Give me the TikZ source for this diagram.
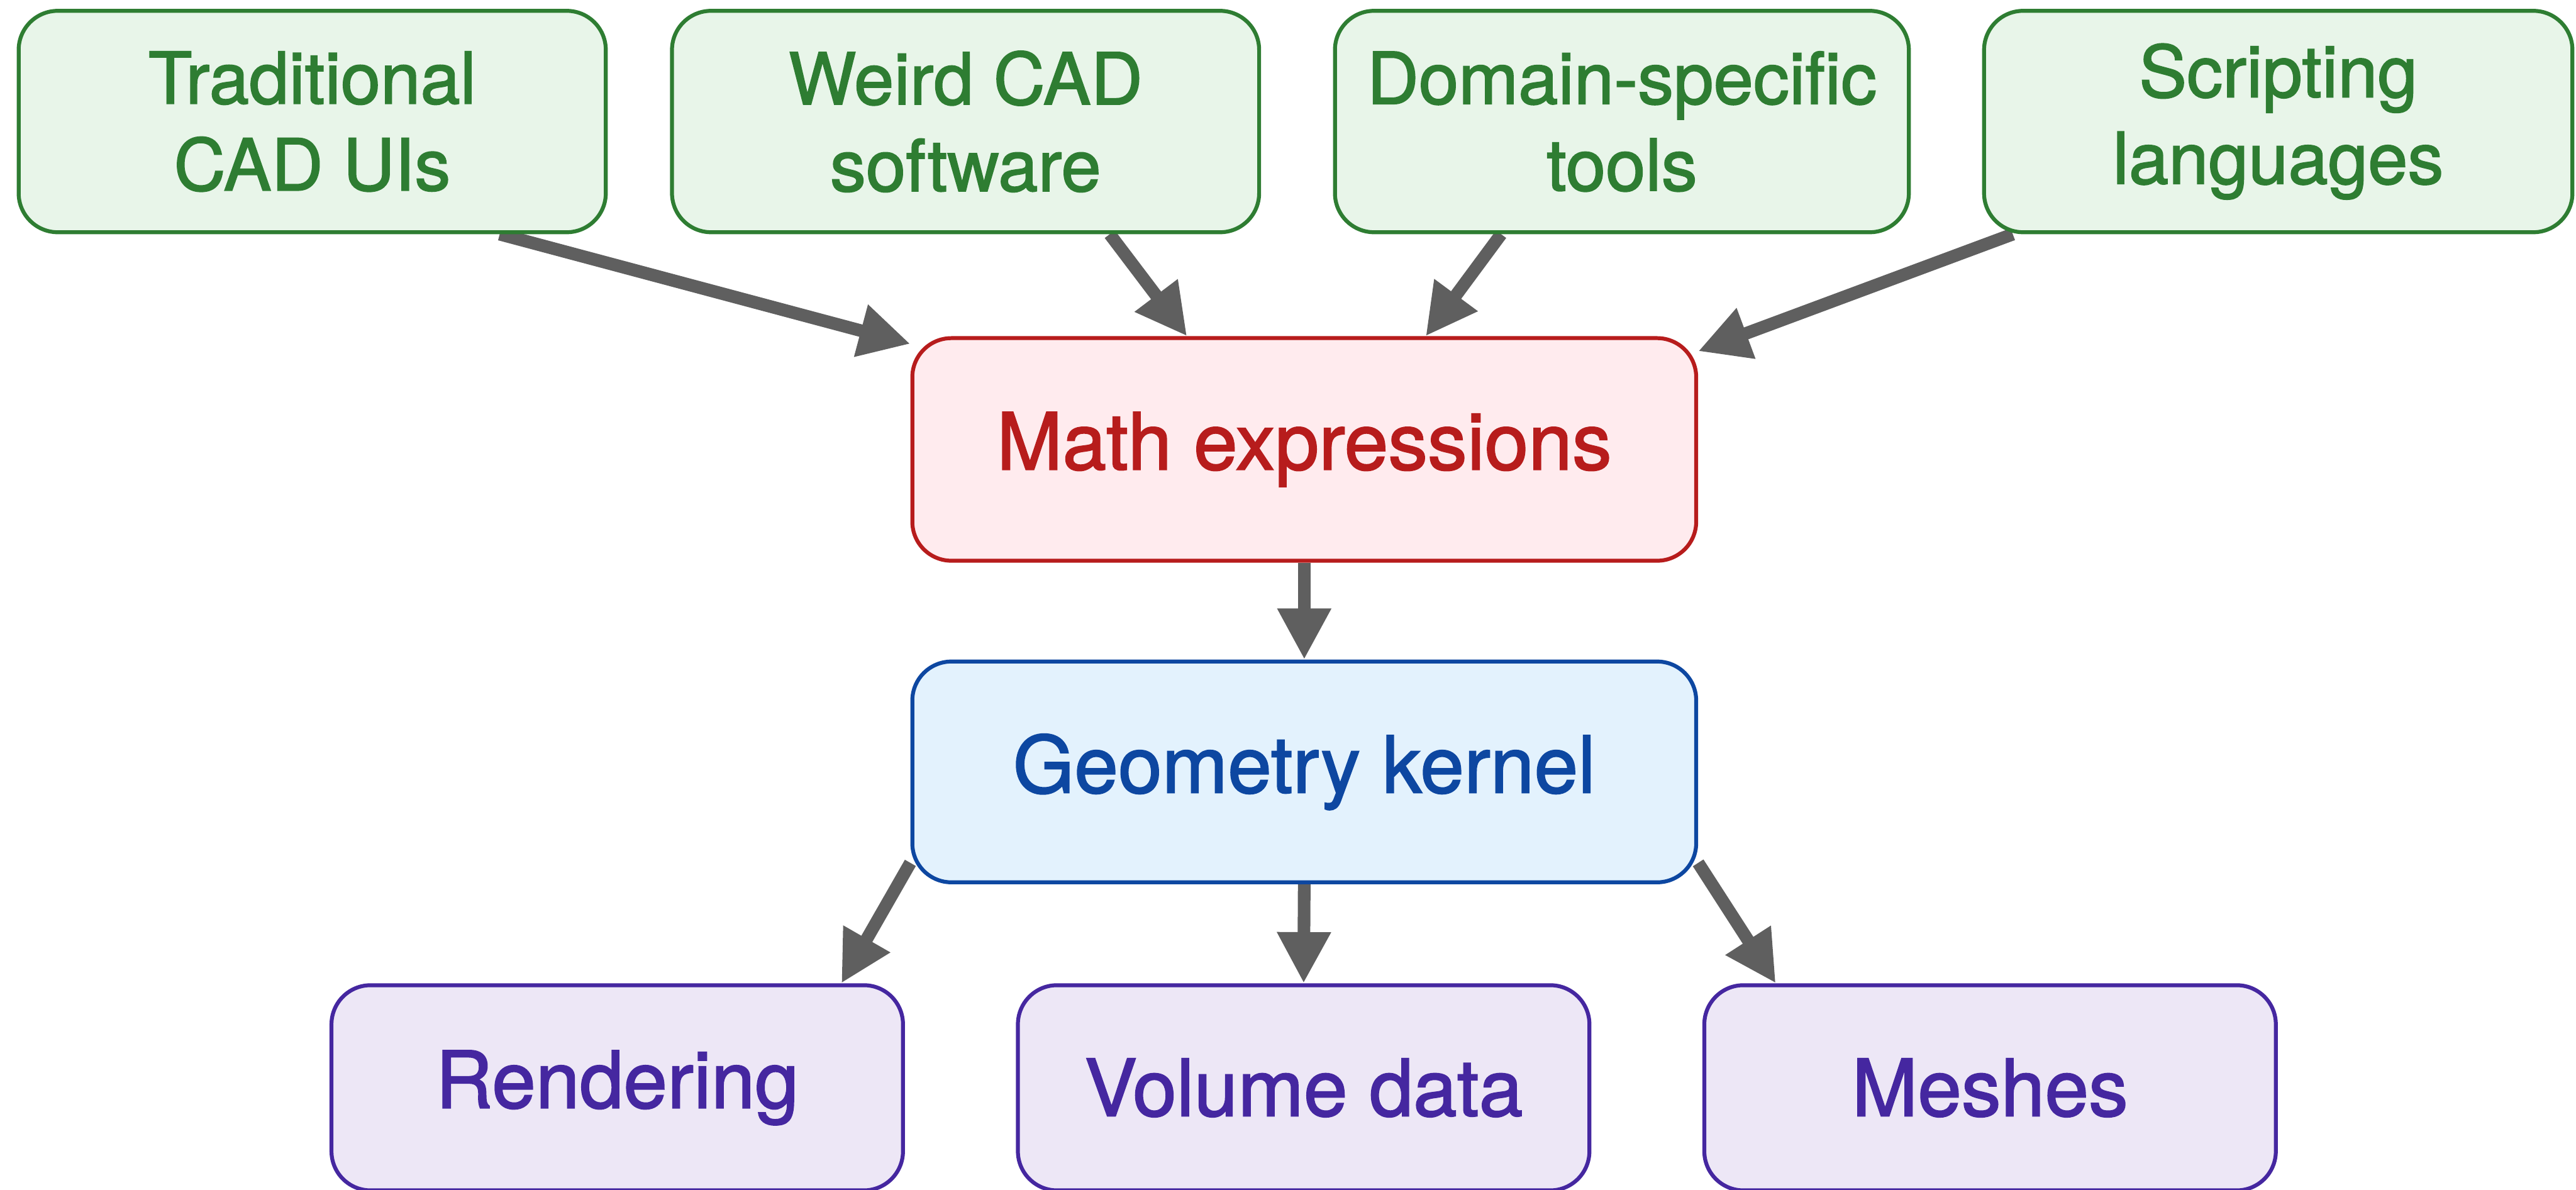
\documentclass[tikz,border=0pt]{standalone}
\usepackage{fontspec}
\setmainfont{TeX Gyre Heros}[BoldFeatures={FakeBold=1.6}, BoldFont=TeX Gyre Heros]
\usetikzlibrary{positioning, arrows.meta}

\definecolor{srcline}{HTML}{2E7D32}
\definecolor{srcfill}{HTML}{E8F5E9}
\definecolor{mathline}{HTML}{B71C1C}
\definecolor{mathfill}{HTML}{FFEBEE}
\definecolor{kernline}{HTML}{0D47A1}
\definecolor{kernfill}{HTML}{E3F2FD}
\definecolor{resline}{HTML}{4527A0}
\definecolor{resfill}{HTML}{EDE7F6}
\definecolor{linkgray}{HTML}{5F5F5F}

\pgfdeclarelayer{background}
\pgfsetlayers{background,main}

\begin{document}
\begin{tikzpicture}

% \draw[help lines] (0,0) grid (43,-20);
\useasboundingbox (0,0) rectangle (42.82,-19.77);
\clip (0,0) rectangle (42.82,-19.77);

\tikzstyle{box}=[shape=rectangle, rounded corners=0.65cm, line width=0.065cm,
inner sep=0pt, align=center];
\tikzstyle{srcbox}=[box, draw=srcline, fill=srcfill, text=srcline,
minimum height=3.68cm, font=\fontsize{33.9}{41}\selectfont\bfseries];
\tikzstyle{mathbox}=[box, draw=mathline, fill=mathfill, text=mathline,
minimum width=13.03cm, minimum height=3.7cm, font=\fontsize{37.3}{45}\selectfont\bfseries];
\tikzstyle{kernbox}=[box, draw=kernline, fill=kernfill, text=kernline,
minimum width=13.03cm, minimum height=3.67cm, font=\fontsize{37.3}{45}\selectfont\bfseries];
\tikzstyle{resbox}=[box, draw=resline, fill=resfill, text=resline,
minimum width=9.5cm, minimum height=3.41cm, font=\fontsize{37.3}{45}\selectfont\bfseries];
\tikzstyle{link}=[-{Triangle[width=0.84cm,length=0.85cm]}, line width=0.21cm, draw=linkgray];

% sources
\node[srcbox, minimum width=9.76cm] (trad) at (5.19,-2.02) {Traditional\\CAD UIs};
\node[srcbox, minimum width=9.76cm] (weird) at (16.05,-2.02) {Weird CAD\\software};
\node[srcbox, minimum width=9.54cm] (domain) at (26.96,-2.02) {Domain-specific\\tools};
\node[srcbox, minimum width=9.78cm] (script) at (37.87,-2.02) {Scripting\\languages};

% middle
\node[mathbox] (math) at (21.68,-7.47) {Math expressions};
\node[kernbox] (geom) at (21.68,-12.83) {Geometry kernel};

% outputs
\node[resbox] (rend) at (10.26,-18.08) {Rendering};
\node[resbox] (vol) at (21.67,-18.08) {Volume data};
\node[resbox] (mesh) at (33.08,-18.08) {Meshes};

% lines
\begin{pgfonlayer}{background}
\draw [link] (trad.-31) -- (math.165.6);
\draw [link] (weird.-38.1) -- (math.136.3);
\draw [link] (domain.223.4) -- (math.43.8);
\draw [link] (script.203.6) -- (math.14.1);
\draw [link] (math.south) -- (geom.north);
\draw [link] (geom.193.8) -- (rend.25.2);
\draw [link] (geom.south) -- (vol.north);
\draw [link] (geom.-13.9) -- (mesh.154.9);
\end{pgfonlayer}

\end{tikzpicture}
\end{document}
